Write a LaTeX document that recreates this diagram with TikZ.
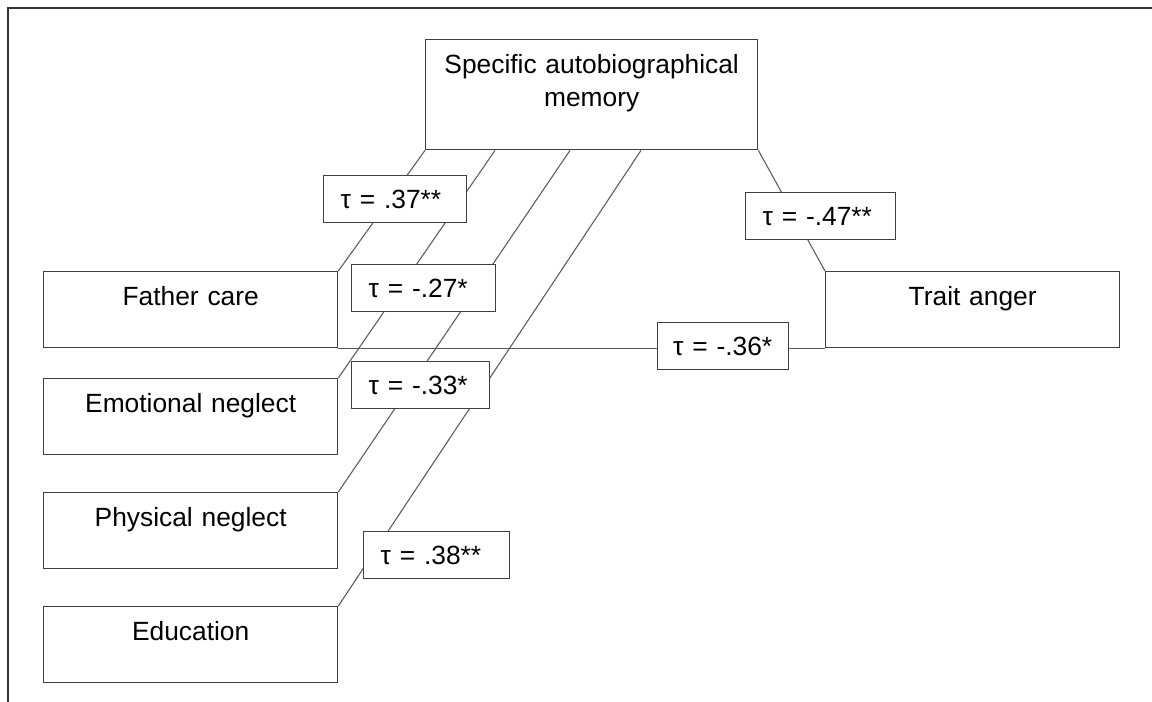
\documentclass[tikz,border=0pt]{standalone}
\usepackage{fontspec}
\setmainfont{Liberation Sans}
\usetikzlibrary{calc}

\tikzset{
  varbox/.style={draw=black!75, line width=0.8pt, anchor=north west, inner sep=0pt,
    align=center, text height=0.68cm, text depth=0.84cm, text width=5.88cm},
  coef/.style={draw=black!75, fill=white, line width=0.8pt, anchor=north west,
    inner xsep=0.34cm, inner ysep=0pt, minimum height=0.94cm, align=left, text width=#1},
  link/.style={draw=black!65, line width=0.6pt}
}

\begin{document}
\begin{tikzpicture}[x=0.02cm, y=-0.02cm, font=\fontsize{15}{18.7}\selectfont]
	\useasboundingbox (0,0) rectangle (1152,702);
	\draw[line width=1.1pt, black!80] (8,702) -- (8,8) -- (1152,8);
	% variables
	\node[varbox, text width=6.64cm, text depth=1.52cm] at (425,39) (mem) {Specific autobiographical\\memory};
	\node[varbox] at (43,271) (father) {Father care};
	\node[varbox] at (825,271) (anger) {Trait anger};
	\node[varbox] at (43,378) (emo) {Emotional neglect};
	\node[varbox] at (43,492) (phys) {Physical neglect};
	\node[varbox] at (43,606) (edu) {Education};
	% links
	\draw[link] (mem.south west) -- (father.north east);
	\draw[link] ($(mem.south west)+(70,0)$) -- (emo.north east);
	\draw[link] ($(mem.south west)+(145,0)$) -- (phys.north east);
	\draw[link] ($(mem.south west)+(216,0)$) -- (edu.north east);
	\draw[link] (mem.south east) -- (anger.north west);
	\draw[link] (father.south east) -- (anger.south west);
	% coefficients
	\node[coef=2.18cm] at (323,175) (c37) {τ = .37**};
	\node[coef=2.20cm] at (351,264) (c27) {τ = -.27*};
	\node[coef=2.08cm] at (351,361) (c33) {τ = -.33*};
	\node[coef=2.24cm] at (363,531) (c38) {τ = .38**};
	\node[coef=2.32cm] at (745,192) (c47) {τ = -.47**};
	\node[coef=2.00cm, inner xsep=0.31cm] at (657,322) (c36) {τ = -.36*};
\end{tikzpicture}
\end{document}
